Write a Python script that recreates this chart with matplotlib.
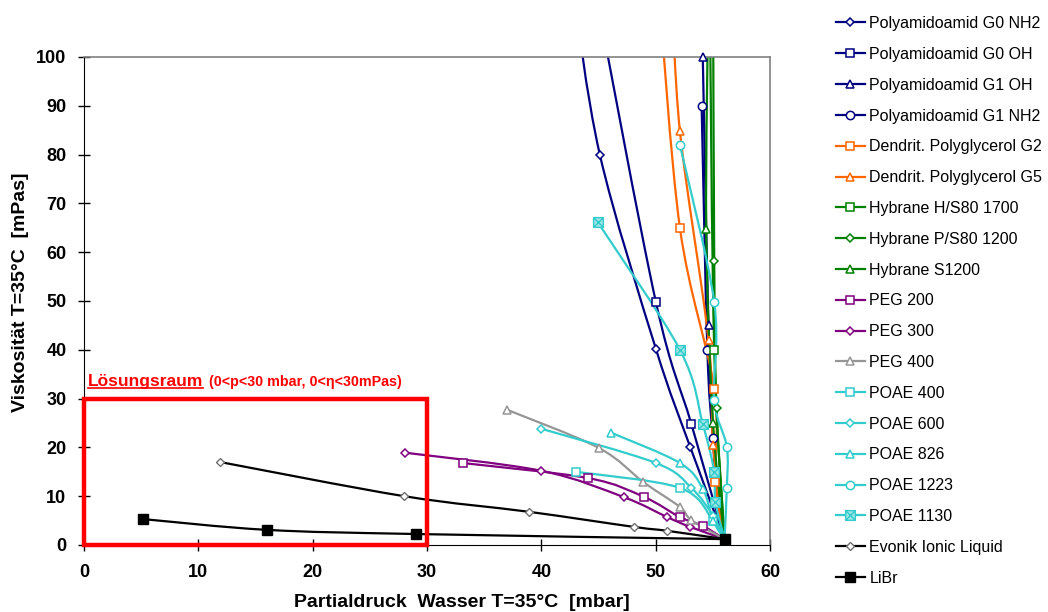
import numpy as np
import matplotlib
matplotlib.use("Agg")
import matplotlib.pyplot as plt
from matplotlib.path import Path
from matplotlib.patches import PathPatch, Rectangle
from matplotlib.lines import Line2D

plt.rcParams['font.family'] = ['Liberation Sans', 'DejaVu Sans']

# series: x = partial pressure [mbar], y = viscosity [mPas]
# points above 100 are where a curve leaves the top of the plot
pam_g0_nh2_x = [42.7, 45.1, 50.0, 53.0, 56.0]
pam_g0_nh2_y = [115, 80.0, 40.2, 20.1, 1.2]
pam_g0_oh_x = [44.6, 50.0, 53.1, 56.0]
pam_g0_oh_y = [115, 49.8, 24.8, 1.2]
pam_g1_oh_x = [54.1, 54.6, 55.2, 56.0]
pam_g1_oh_y = [100, 45, 14, 1.2]
pam_g1_nh2_x = [54.0, 54.5, 55.0, 56.0]
pam_g1_nh2_y = [90, 40, 22, 1.2]
dpg_g2_x = [50.2, 52.1, 55.1, 55.2, 56.0]
dpg_g2_y = [115, 65.0, 32.0, 13.0, 1.2]
dpg_g5_x = [51.4, 52.1, 54.6, 55.0, 56.0]
dpg_g5_y = [115, 84.8, 42.0, 20.5, 1.2]
hyb_h_x = [54.7, 55.1, 56.0]
hyb_h_y = [115, 40, 1.2]
hyb_p_x = [55.0, 55.1, 55.3, 56.0]
hyb_p_y = [115, 58.2, 28, 1.2]
hyb_s_x = [54.6, 54.4, 55.0, 56.0]
hyb_s_y = [115, 64.8, 25, 1.2]
peg200_x = [33.1, 44.1, 49.0, 52.1, 54.1, 56.0]
peg200_y = [16.8, 13.7, 9.8, 5.7, 3.9, 1.2]
peg300_x = [28.1, 40.0, 47.2, 51.0, 53.0, 56.0]
peg300_y = [18.9, 15.2, 9.8, 5.7, 3.7, 1.2]
peg400_x = [37.0, 45.0, 48.9, 52.1, 53.1, 56.0]
peg400_y = [27.7, 19.9, 12.9, 7.8, 5.1, 1.2]
poae400_x = [43.0, 52.1, 55.0, 56.0]
poae400_y = [15.0, 11.7, 5.0, 1.2]
poae600_x = [40.0, 50.0, 53.1, 55.0, 56.0]
poae600_y = [23.8, 16.8, 11.7, 6.0, 1.2]
poae826_x = [46.1, 52.1, 54.1, 55.0, 56.0]
poae826_y = [23.0, 16.8, 11.5, 5.0, 1.2]
poae1223_x = [52.1, 55.1, 55.1, 56.2, 56.2, 56.0]
poae1223_y = [82.0, 49.8, 29.8, 20.1, 11.7, 1.2]
poae1130_x = [44.9, 52.1, 54.1, 55.1, 55.2, 56.0]
poae1130_y = [66.2, 40.0, 24.8, 15.0, 8.8, 1.2]
evonik_x = [11.9, 28.0, 38.9, 48.1, 51.0, 56.0]
evonik_y = [17.0, 10.0, 6.8, 3.7, 2.9, 1.2]
libr_x = [5.2, 16.0, 29.0, 56.0]
libr_y = [5.3, 3.1, 2.25, 1.2]

NAVY = '#000080'
ORANGE = '#FF6600'
GREEN = '#008000'
PURPLE = '#800080'
GREY = '#969696'
TURQ = '#33CCCC'

# square with a cross in it (Excel style marker)
xsq = Path([(-1, -1), (1, -1), (1, 1), (-1, 1), (-1, -1), (-1, -1), (1, 1), (-1, 1), (1, -1)],
           [Path.MOVETO, Path.LINETO, Path.LINETO, Path.LINETO, Path.CLOSEPOLY,
            Path.MOVETO, Path.LINETO, Path.MOVETO, Path.LINETO])

series = [
    ("Polyamidoamid G0 NH2", NAVY, 'D', pam_g0_nh2_x, pam_g0_nh2_y),
    ("Polyamidoamid G0 OH", NAVY, 's', pam_g0_oh_x, pam_g0_oh_y),
    ("Polyamidoamid G1 OH", NAVY, '^', pam_g1_oh_x, pam_g1_oh_y),
    ("Polyamidoamid G1 NH2", NAVY, 'o', pam_g1_nh2_x, pam_g1_nh2_y),
    ("Dendrit. Polyglycerol G2", ORANGE, 's', dpg_g2_x, dpg_g2_y),
    ("Dendrit. Polyglycerol G5", ORANGE, '^', dpg_g5_x, dpg_g5_y),
    ("Hybrane H/S80 1700", GREEN, 's', hyb_h_x, hyb_h_y),
    ("Hybrane P/S80 1200", GREEN, 'D', hyb_p_x, hyb_p_y),
    ("Hybrane S1200", GREEN, '^', hyb_s_x, hyb_s_y),
    ("PEG 200", PURPLE, 's', peg200_x, peg200_y),
    ("PEG 300", PURPLE, 'D', peg300_x, peg300_y),
    ("PEG 400", GREY, '^', peg400_x, peg400_y),
    ("POAE 400", TURQ, 's', poae400_x, poae400_y),
    ("POAE 600", TURQ, 'D', poae600_x, poae600_y),
    ("POAE 826", TURQ, '^', poae826_x, poae826_y),
    ("POAE 1223", TURQ, 'o', poae1223_x, poae1223_y),
    ("POAE 1130", TURQ, xsq, poae1130_x, poae1130_y),
    ("Evonik Ionic Liquid", 'black', 'D', evonik_x, evonik_y),
    ("LiBr", 'black', 's', libr_x, libr_y),
]


def smooth_path(xs, ys):
    # Catmull-Rom through the points, drawn as cubic Bezier segments
    p = np.column_stack([xs, ys]).astype(float)
    pts = np.vstack([p[0], p, p[-1]])
    verts = [p[0]]
    codes = [Path.MOVETO]
    for i in range(1, len(pts) - 2):
        p0, p1, p2, p3 = pts[i - 1], pts[i], pts[i + 1], pts[i + 2]
        verts += [p1 + (p2 - p0) / 6, p2 - (p3 - p1) / 6, p2]
        codes += [Path.CURVE4] * 3
    return Path(verts, codes)


fig = plt.figure(figsize=(10.48, 6.12), dpi=100)
ax = fig.add_axes([0.080, 0.1095, 0.655, 0.7975])
ax.set_xlim(0, 60)
ax.set_ylim(0, 100)

handles = []
for label, color, marker, xs, ys in series:
    ax.add_patch(PathPatch(smooth_path(xs, ys), fill=False, edgecolor=color, lw=1.6))
    xs = np.array(xs)
    ys = np.array(ys)
    keep = ys <= 100
    if label == "LiBr":
        mk = dict(marker='s', ms=6.5, mfc='black', mec='black')
    elif label == "Evonik Ionic Liquid":
        mk = dict(marker='D', ms=4, mfc='white', mec='#707070', mew=1.0)
    elif marker is xsq:
        mk = dict(marker=xsq, ms=7, mfc='#9EE6E6', mec=TURQ, mew=1.0)
    else:
        ms = 4.5 if marker == 'D' else 6
        mk = dict(marker=marker, ms=ms, mfc='white', mec=color, mew=1.1)
    ax.plot(xs[keep], ys[keep], ls='none', clip_on=False, zorder=3, **mk)
    handles.append(Line2D([], [], color=color, lw=1.6, label=label, **mk))

# solution space box
ax.add_patch(Rectangle((0, 0), 30, 30, fill=False, edgecolor='#FF0000', lw=3.2,
                       clip_on=False, zorder=5))
t1 = ax.text(0.35, 32.6, "Lösungsraum", color='#FF0000', fontsize=12.5, fontweight='bold')
ax.text(10.9, 32.6, "(0<p<30 mbar, 0<η<30mPas)", color='#FF0000', fontsize=10.3,
        fontweight='bold')
fig.canvas.draw()
bb = t1.get_window_extent()
inv = ax.transData.inverted()
(ux0, _), (ux1, _) = inv.transform([(bb.x0, 0), (bb.x1, 0)])
ax.plot([ux0, ux1], [32.1, 32.1], color='#FF0000', lw=1.2, clip_on=False)

ax.set_xticks(np.arange(0, 61, 10))
ax.set_yticks(np.arange(0, 101, 10))
ax.tick_params(direction='inout', length=9, width=1, labelsize=13)
ax.tick_params(axis='y', pad=8)
ax.tick_params(axis='x', pad=9)
for lab in ax.get_xticklabels() + ax.get_yticklabels():
    lab.set_fontweight('bold')
for s in ['left', 'bottom']:
    ax.spines[s].set_color('black')
for s in ['top', 'right']:
    ax.spines[s].set_color('#808080')
    ax.spines[s].set_linewidth(1.2)

ax.set_xlabel("Partialdruck  Wasser T=35°C  [mbar]", fontsize=14, fontweight='bold')
ax.set_ylabel("Viskosität T=35°C  [mPas]", fontsize=14, fontweight='bold')
ax.xaxis.set_label_coords(0.551, -0.100)
ax.yaxis.set_label_coords(-0.080, 0.518)

fig.legend(handles=handles, loc='upper left', bbox_to_anchor=(0.787, 0.992), frameon=False,
           fontsize=11.5, handlelength=1.8, handletextpad=0.3, labelspacing=0.99,
           borderpad=0.2)

fig.savefig("out.png", dpi=100)
